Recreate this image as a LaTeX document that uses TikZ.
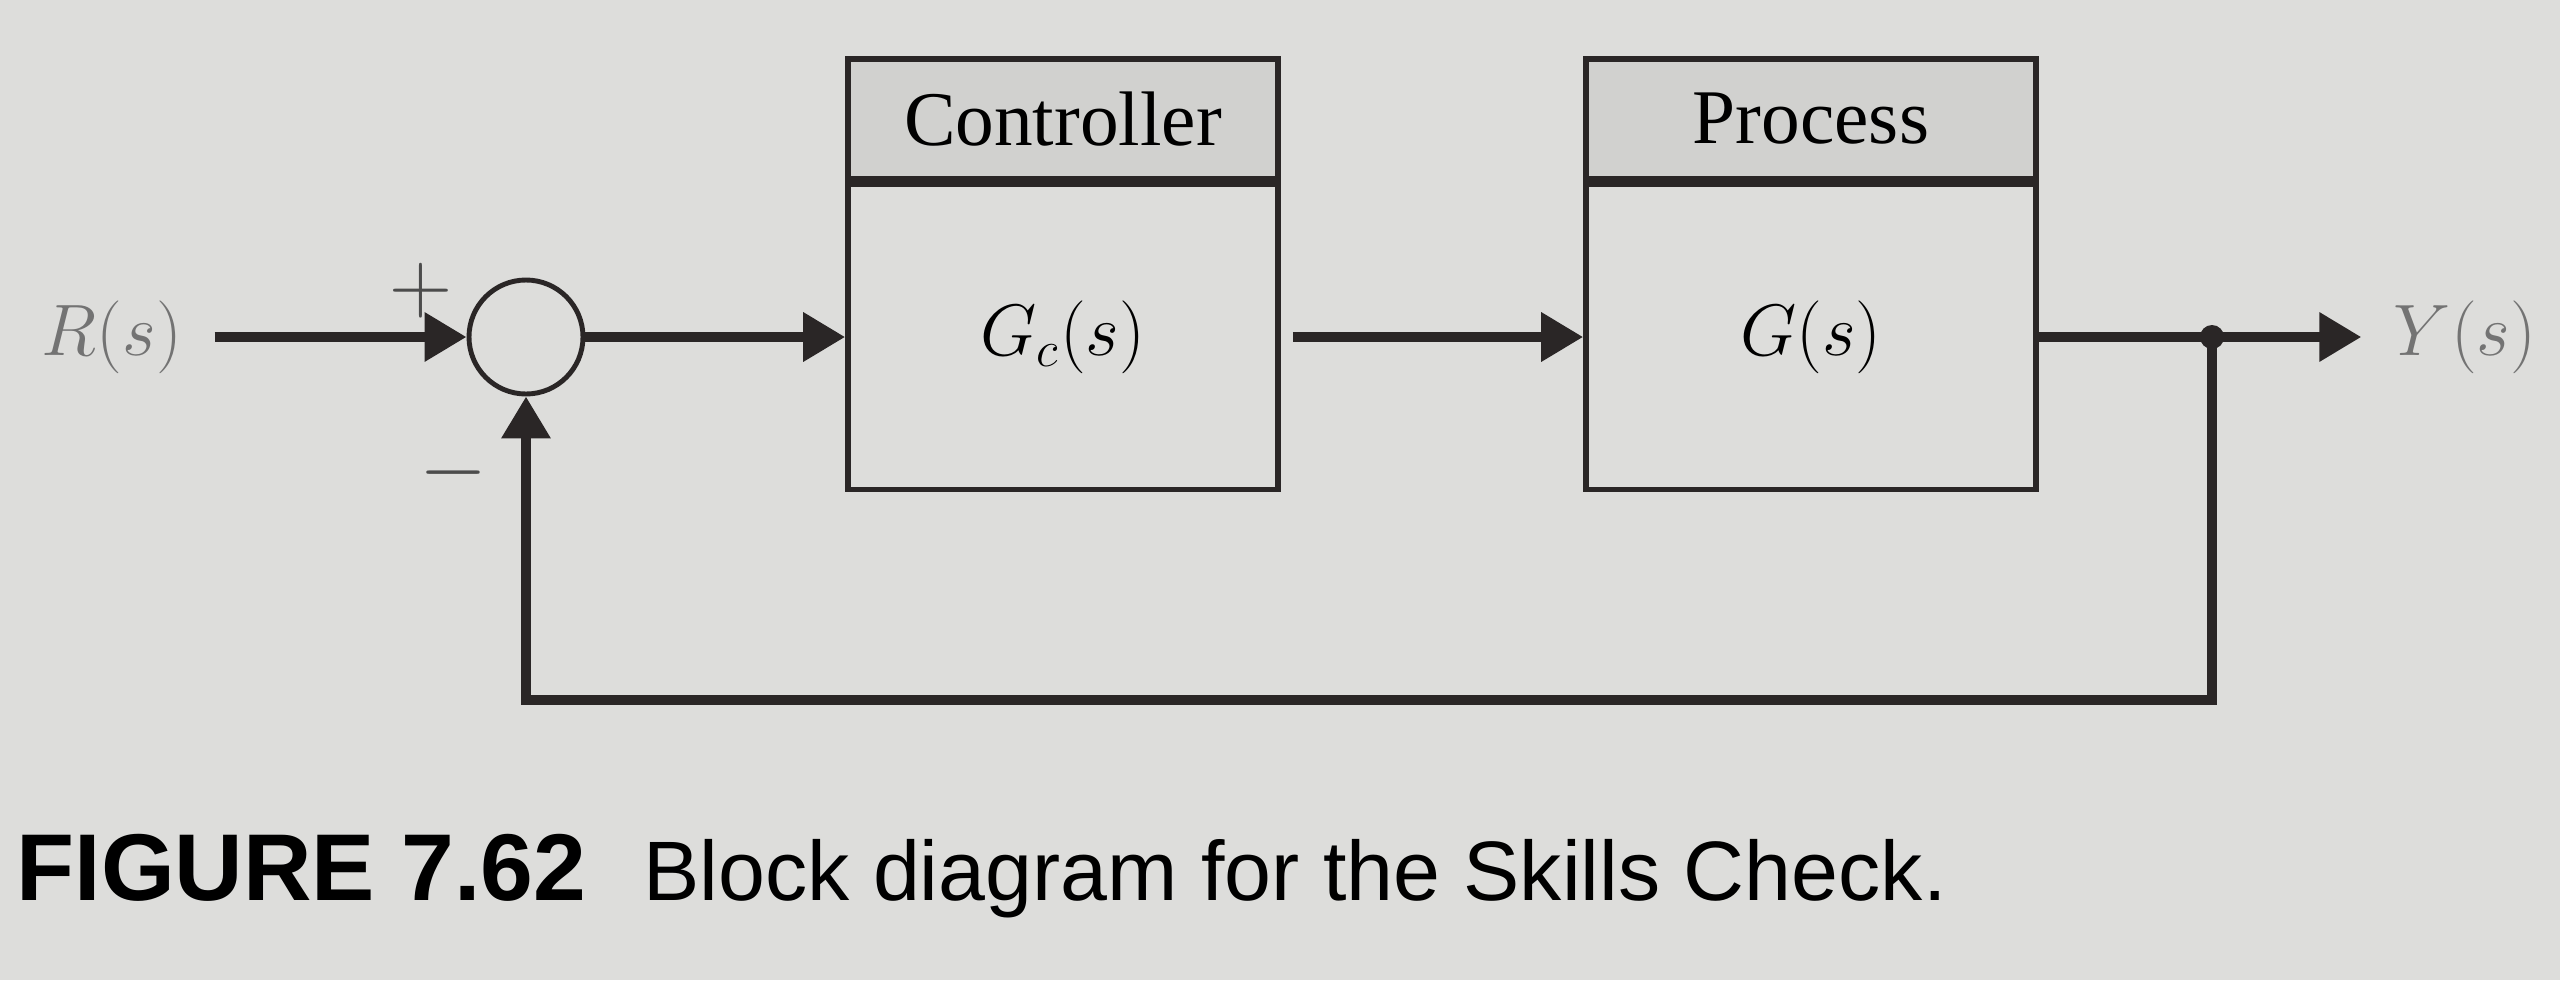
\documentclass[tikz,border=0pt]{standalone}
\usepackage{fontspec}
\setmainfont{Liberation Serif}
\newfontfamily\capfont{Liberation Sans}
\usepackage{tikz}
\usetikzlibrary{arrows.meta, calc, positioning}
\definecolor{paper}{RGB}{221,221,219}
\definecolor{headgray}{RGB}{209,209,207}
\definecolor{ink}{RGB}{42,38,38}

\begin{document}
\begin{tikzpicture}[
		block/.style={rectangle, draw=ink, line width=1.6pt, minimum height=3.05cm, inner sep=0pt, font=\fontsize{22}{26}\selectfont},
		header/.style={rectangle, draw=ink, line width=1.6pt, fill=headgray, minimum height=1.2cm, inner sep=0pt, anchor=south, font=\fontsize{22}{26}\selectfont},
		sum/.style={circle, draw=ink, line width=1.4pt, minimum size=1.14cm, inner sep=0pt},
		signal/.style={draw=ink, line width=2.8pt},
		sig/.style={text=black!55, font=\fontsize{22}{26}\selectfont},
		sign/.style={text=black!70, font=\fontsize{24}{28}\selectfont},
		>={Triangle[length=4.2mm, width=4.7mm]}
		]
	
		\fill[paper] (0,0) rectangle (25.6,9.8);
		\useasboundingbox (0,0) rectangle (25.6,9.8);
	
		\node[sig] (R) at (1.12, 6.43) {$R(s)$};
		\node[sum] (sum) at (5.26, 6.43) {};
		\node[sign] (plus) at (4.21, 6.89) {$+$};
		\node[sign] (minus) at (4.54, 5.07) {$-$};
	
		\node[block, minimum width=4.3cm] (Gc) at (10.63, 6.43) {$G_c(s)$};
		\node[header, minimum width=4.3cm] (ctrl) at (Gc.north) {Controller};
		\node[block, minimum width=4.5cm] (G) at (18.11, 6.43) {$G(s)$};
		\node[header, minimum width=4.5cm] (proc) at (G.north) {Process};
	
		\node[sig] (Y) at (24.65, 6.43) {$Y(s)$};
		\coordinate (split) at (22.12, 6.43);
		\coordinate (fb) at (22.12, 2.8);
	
		\draw[signal, ->, shorten <=0.2cm] (R) -- (sum);
		\draw[signal, ->] (sum) -- (Gc);
		\draw[signal, ->, shorten <=0.12cm] (Gc) -- (G);
		\draw[signal, ->, shorten >=0.2cm] (G) -- (Y);
		\draw[signal, ->] (split) -- (fb) -| (sum.south);
		\fill[ink] (split) circle (0.12);
	
		\node[anchor=base west, inner sep=0pt, font=\capfont\fontsize{24}{30}\selectfont] (caption) at (0.16, 0.8) {{\fontsize{27}{30}\selectfont\textbf{FIGURE 7.62}}\hspace{0.4em} Block diagram for the Skills Check.};
	
	\end{tikzpicture}
\end{document}
